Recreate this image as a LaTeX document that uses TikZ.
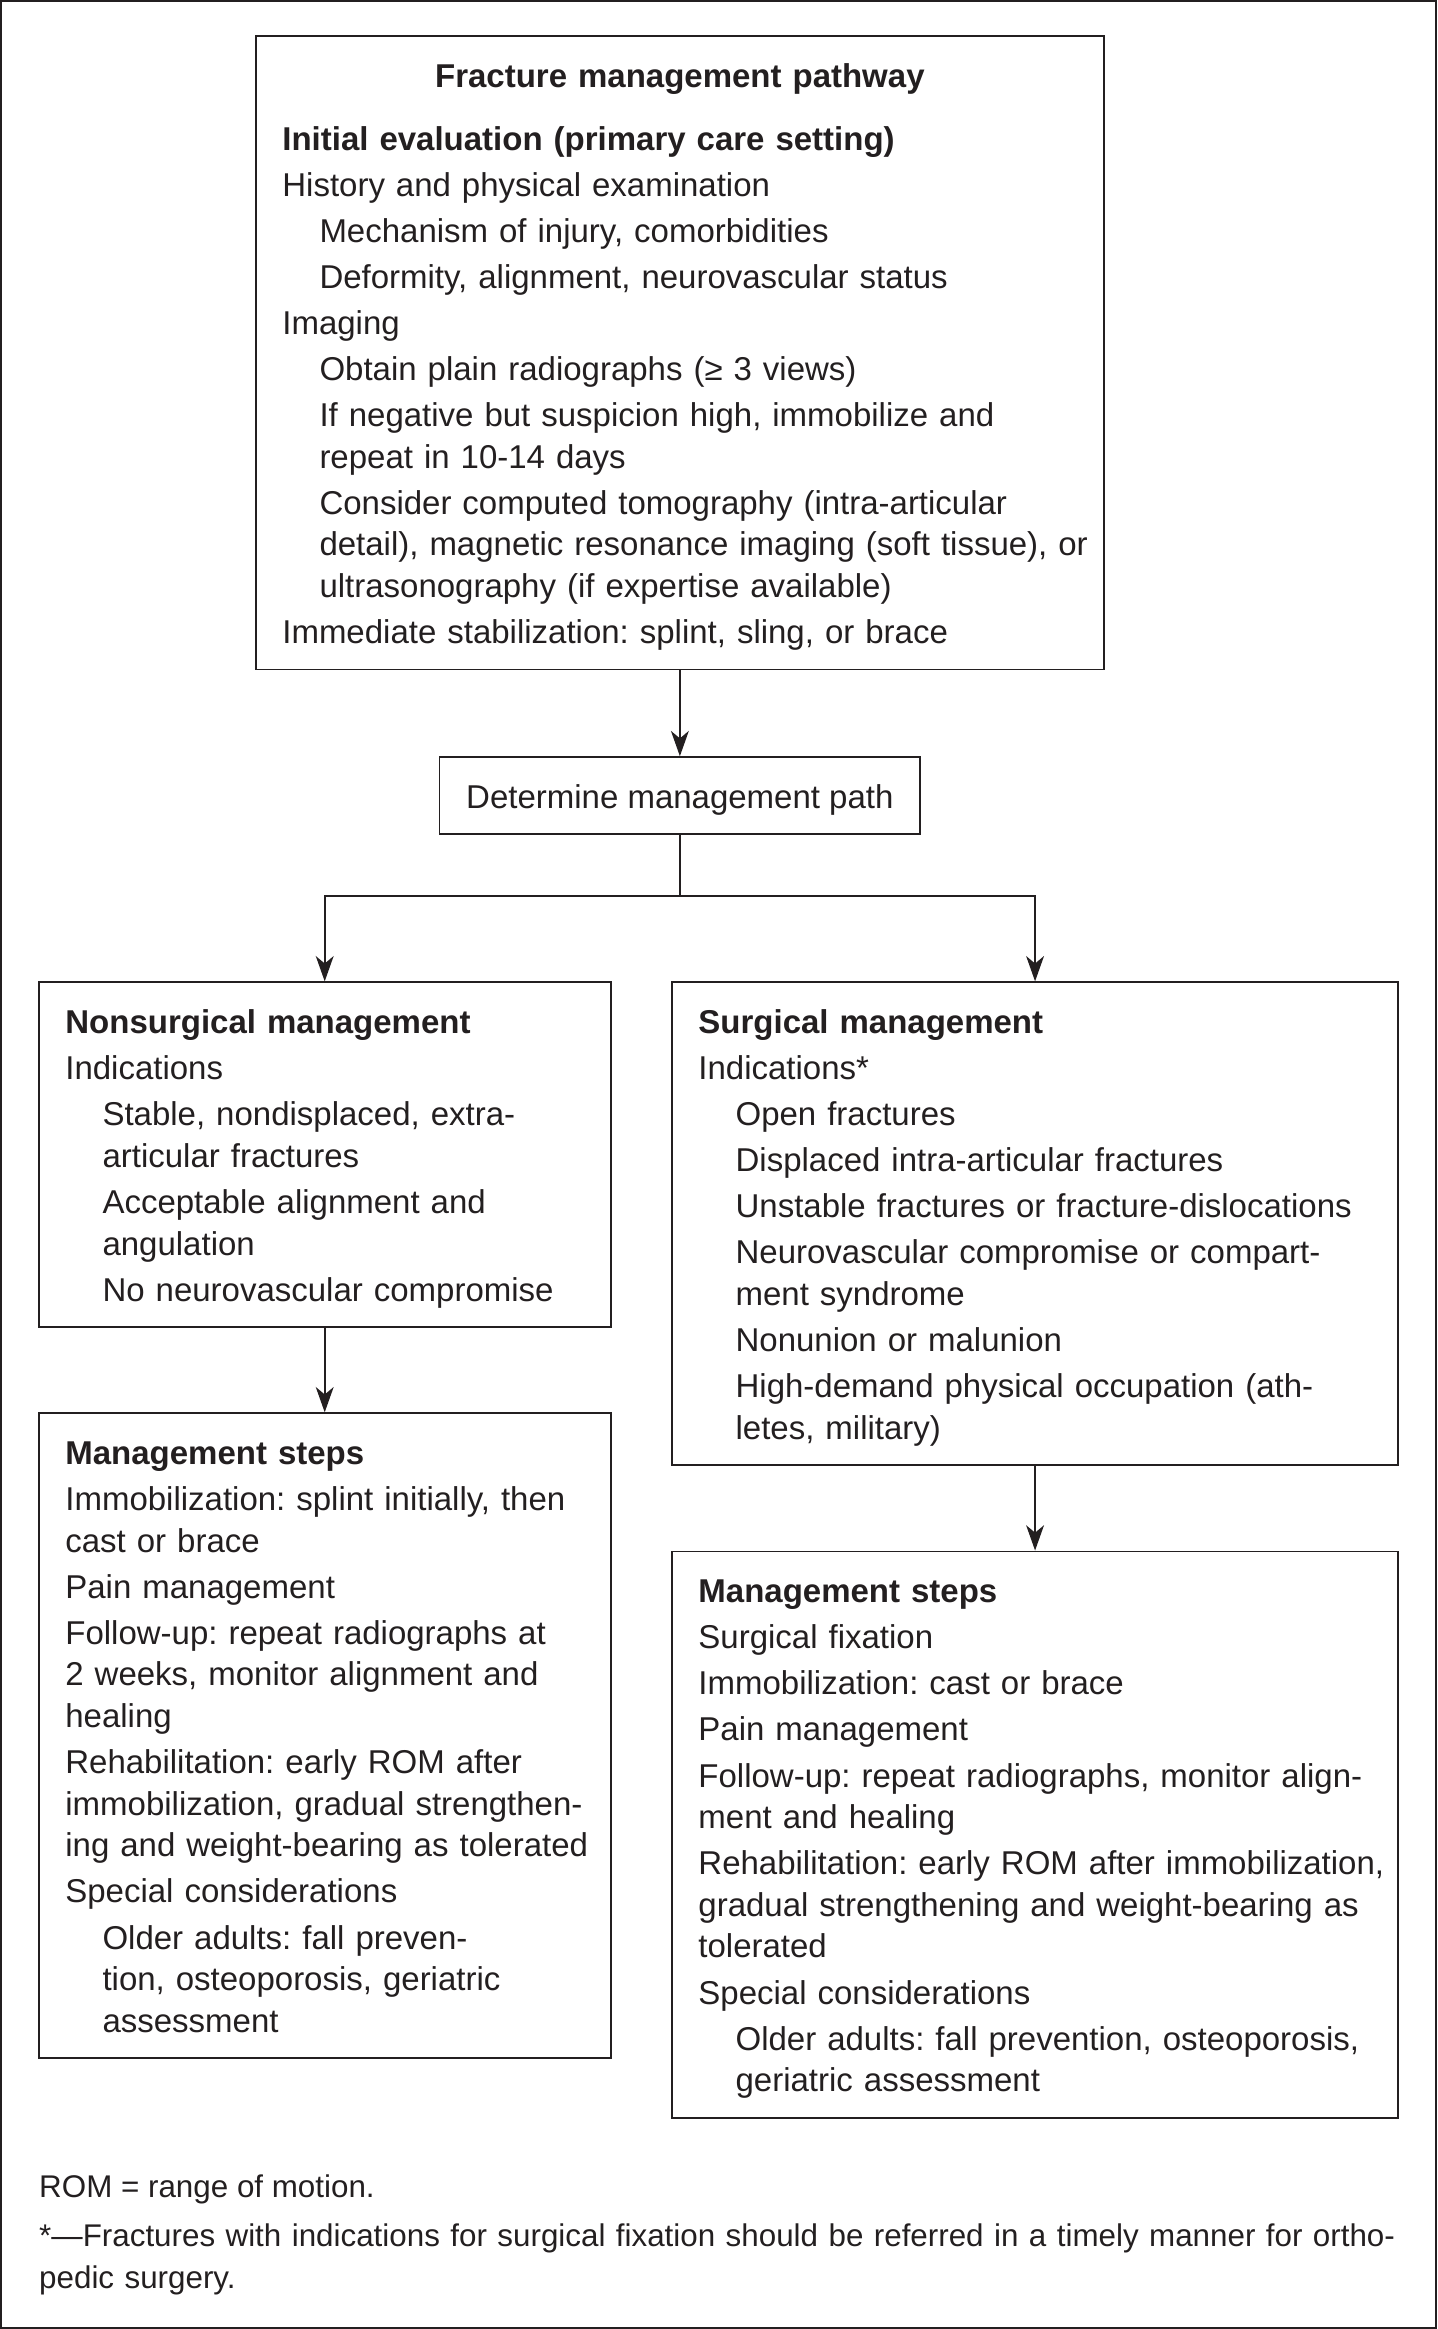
\documentclass[tikz,border=0pt]{standalone}
\usepackage{fontspec}
\setmainfont{Liberation Sans}
\usepackage{xcolor}
\usetikzlibrary{arrows.meta, positioning}
\definecolor{fmp_ink}{RGB}{35, 31, 32}
\frenchspacing
\newcommand{\fmptop}{\rule{0pt}{17.25pt}}
\newcommand{\fmpbot}{\rule[-8.75pt]{0pt}{8.75pt}}
\newcommand{\toplvl}[1]{\mbox{#1}}
\newcommand{\sublvl}[1]{\hspace*{12.5pt}\mbox{#1}}

\begin{document}
\begin{tikzpicture}[x=0.5pt, y=-0.5pt,
            font=\fontsize{11.1}{14}\selectfont, color=fmp_ink,
            blk/.style={draw=fmp_ink, line width=0.65pt, align=left,
                        inner xsep=9pt, inner ysep=0pt},
            note/.style={inner sep=0pt, align=left, anchor=base west,
                         font=\fontsize{10.55}{14}\selectfont},
            arr/.style={-{Stealth[length=8.5pt, width=6pt, inset=2.5pt]},
                        line width=0.55pt, draw=fmp_ink}]
  \useasboundingbox (0, 0) rectangle (967, 1567.2);
  \draw[line width=0.7pt, fmp_ink] (0.7, 0.7) rectangle (966.3, 1566.5);

  \node[blk, text width=267.5pt, minimum width=285.5pt, minimum height=212.5pt]
    (init) at (457.5, 237.5) {%
    \fmptop\makebox[\linewidth]{\textbf{Fracture management pathway}}\\[7pt]
    \toplvl{\textbf{Initial evaluation (primary care setting)}}\\[1.5pt]
    \toplvl{History and physical examination}\\[1.5pt]
    \sublvl{Mechanism of injury, comorbidities}\\[1.5pt]
    \sublvl{Deformity, alignment, neurovascular status}\\[1.5pt]
    \toplvl{Imaging}\\[1.5pt]
    \sublvl{Obtain plain radiographs (≥ 3 views)}\\[1.5pt]
    \sublvl{If negative but suspicion high, immobilize and}\\
    \sublvl{repeat in 10-14 days}\\[1.5pt]
    \sublvl{Consider computed tomography (intra-articular}\\
    \sublvl{detail), magnetic resonance imaging (soft tissue), or}\\
    \sublvl{ultrasonography (if expertise available)}\\[1.5pt]
    \toplvl{Immediate stabilization: splint, sling, or brace}\fmpbot};
  \node[blk, align=center, minimum width=161.5pt, minimum height=25.5pt]
    (path) at (457.5, 535.5) {\fmptop Determine management path\fmpbot};

  \node[blk, text width=174.5pt, minimum width=192.5pt, minimum height=115pt]
    (nonsurg) at (218.5, 777) {%
    \fmptop\toplvl{\textbf{Nonsurgical management}}\\[1.5pt]
    \toplvl{Indications}\\[1.5pt]
    \sublvl{Stable, nondisplaced, extra-}\\
    \sublvl{articular fractures}\\[1.5pt]
    \sublvl{Acceptable alignment and}\\
    \sublvl{angulation}\\[1.5pt]
    \sublvl{No neurovascular compromise}\fmpbot};
  \node[blk, text width=226.5pt, minimum width=244.5pt, minimum height=161.5pt]
    (surg) at (696.5, 823.5) {%
    \fmptop\toplvl{\textbf{Surgical management}}\\[1.5pt]
    \toplvl{Indications*}\\[1.5pt]
    \sublvl{Open fractures}\\[1.5pt]
    \sublvl{Displaced intra-articular fractures}\\[1.5pt]
    \sublvl{Unstable fractures or fracture-dislocations}\\[1.5pt]
    \sublvl{Neurovascular compromise or compart-}\\
    \sublvl{ment syndrome}\\[1.5pt]
    \sublvl{Nonunion or malunion}\\[1.5pt]
    \sublvl{High-demand physical occupation (ath-}\\
    \sublvl{letes, military)}\fmpbot};

  \node[blk, text width=174.5pt, minimum width=192.5pt, minimum height=217pt]
    (nsteps) at (218.5, 1168) {%
    \fmptop\toplvl{\textbf{Management steps}}\\[1.5pt]
    \toplvl{Immobilization: splint initially, then}\\
    \toplvl{cast or brace}\\[1.5pt]
    \toplvl{Pain management}\\[1.5pt]
    \toplvl{Follow-up: repeat radiographs at}\\
    \toplvl{2 weeks, monitor alignment and}\\
    \toplvl{healing}\\[1.5pt]
    \toplvl{Rehabilitation: early ROM after}\\
    \toplvl{immobilization, gradual strengthen-}\\
    \toplvl{ing and weight-bearing as tolerated}\\[1.5pt]
    \toplvl{Special considerations}\\[1.5pt]
    \sublvl{Older adults: fall preven-}\\
    \sublvl{tion, osteoporosis, geriatric}\\
    \sublvl{assessment}\fmpbot};
  \node[blk, text width=226.5pt, minimum width=244.5pt, minimum height=189.5pt]
    (ssteps) at (696.5, 1234.5) {%
    \fmptop\toplvl{\textbf{Management steps}}\\[1.5pt]
    \toplvl{Surgical fixation}\\[1.5pt]
    \toplvl{Immobilization: cast or brace}\\[1.5pt]
    \toplvl{Pain management}\\[1.5pt]
    \toplvl{Follow-up: repeat radiographs, monitor align-}\\
    \toplvl{ment and healing}\\[1.5pt]
    \toplvl{Rehabilitation: early ROM after immobilization,}\\
    \toplvl{gradual strengthening and weight-bearing as}\\
    \toplvl{tolerated}\\[1.5pt]
    \toplvl{Special considerations}\\[1.5pt]
    \sublvl{Older adults: fall prevention, osteoporosis,}\\
    \sublvl{geriatric assessment}\fmpbot};

  \node[note] (romnote) at (26, 1479) {ROM = range of motion.};
  \node[note, text width=470pt] (starnote) at (26, 1512) {%
    \mbox{*—Fractures with indications for surgical fixation should be referred in a timely manner for ortho-}\\
    pedic surgery.};

  \coordinate (split) at (457.5, 603);
  \draw[arr] (init) -- (path);
  \draw[line width=0.55pt, fmp_ink] (path) -- (split);
  \draw[arr] (split) -| (nonsurg.north);
  \draw[arr] (split) -| (surg.north);
  \draw[arr] (nonsurg) -- (nsteps);
  \draw[arr] (surg) -- (ssteps);
\end{tikzpicture}
\end{document}
